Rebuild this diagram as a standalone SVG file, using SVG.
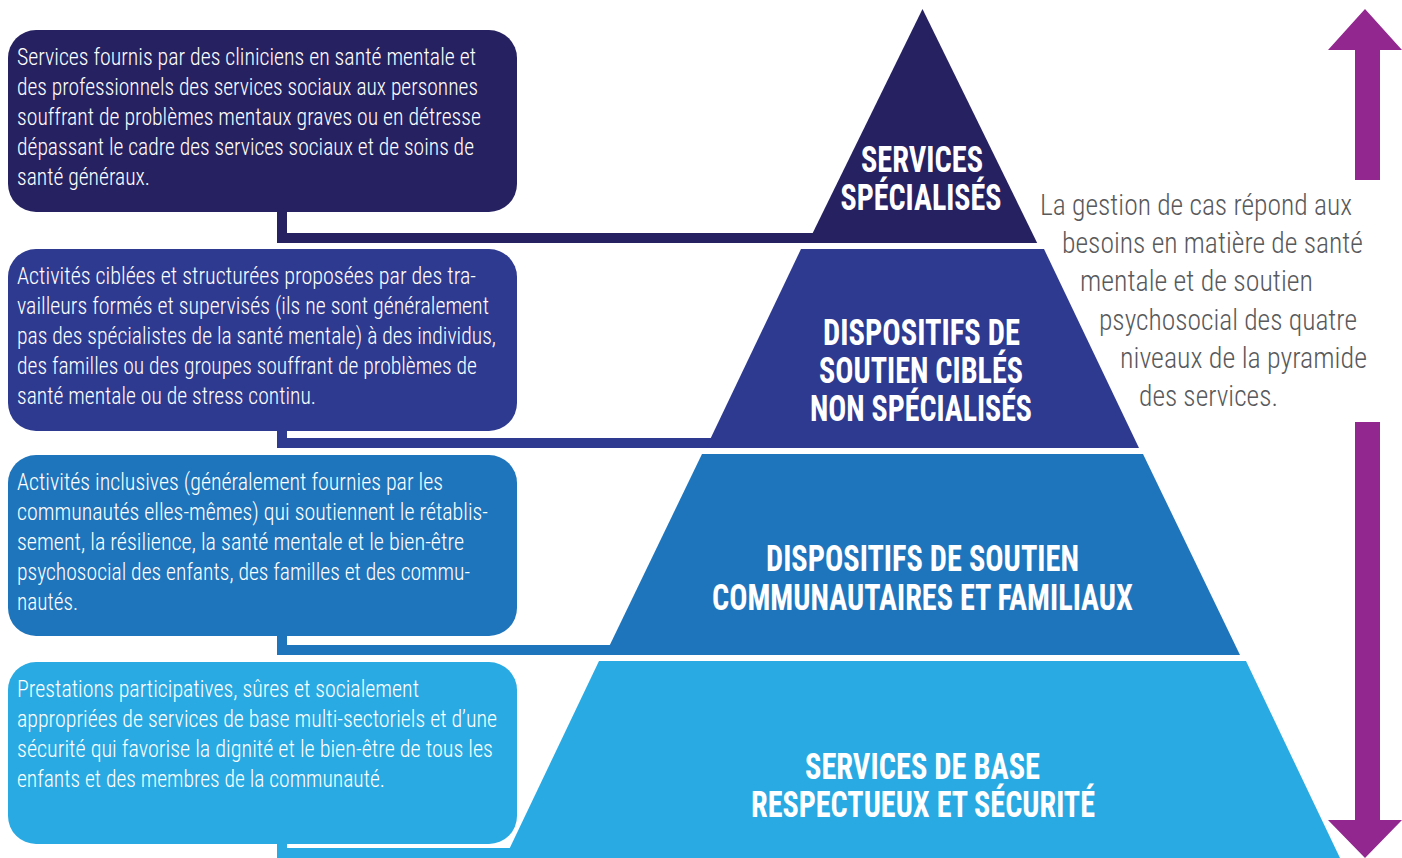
<svg xmlns="http://www.w3.org/2000/svg" width="1402" height="858" viewBox="0 0 1402 858">
<style>
.box{stroke:none}
.bt{font-family:"Roboto Condensed","Liberation Sans Narrow","Roboto",sans-serif;font-weight:300;font-size:24px;fill:#ffffff}
.pt{font-family:"Roboto Condensed","Liberation Sans Narrow","Roboto",sans-serif;font-weight:700;font-size:36px;fill:#ffffff;text-anchor:middle}
.rt{font-family:"Roboto Condensed","Liberation Sans Narrow","Roboto",sans-serif;font-weight:300;font-size:30px;fill:#58595b}
.c1{fill:#262262}.c2{fill:#2e3a90}.c3{fill:#1f75bc}.c4{fill:#29aae2}
.arr{fill:#92278f}
</style>
<rect width="1402" height="858" fill="#ffffff"/>
<g id="connectors">
<path class="c1" d="M277 205 H287 V233 H830 V243 H277 Z"/>
<path class="c2" d="M277 425 H287 V438 H740 V448 H277 Z"/>
<path class="c3" d="M277 630 H287 V645 H640 V655 H277 Z"/>
<path class="c4" d="M277 838 H287 V848 H540 V858 H277 Z"/>
</g>
<g id="level1">
<rect class="c1" x="8" y="30" width="509" height="182" rx="28"/>
<text class="bt"><tspan x="17" y="65" textLength="459" lengthAdjust="spacingAndGlyphs">Services fournis par des cliniciens en santé mentale et</tspan><tspan x="17" y="95" textLength="461" lengthAdjust="spacingAndGlyphs">des professionnels des services sociaux aux personnes</tspan><tspan x="17" y="125" textLength="464" lengthAdjust="spacingAndGlyphs">souffrant de problèmes mentaux graves ou en détresse</tspan><tspan x="17" y="155" textLength="457" lengthAdjust="spacingAndGlyphs">dépassant le cadre des services sociaux et de soins de</tspan><tspan x="17" y="185" textLength="133" lengthAdjust="spacingAndGlyphs">santé généraux.</tspan></text>
<polygon class="c1" points="922.5,9 1037.2,243 807.8,243"/>
<text class="pt"><tspan x="922" y="172" textLength="122" lengthAdjust="spacingAndGlyphs">SERVICES</tspan><tspan x="921" y="210" textLength="161" lengthAdjust="spacingAndGlyphs">SPÉCIALISÉS</tspan></text>
</g>
<g id="level2">
<rect class="c2" x="8" y="249" width="509" height="182" rx="28"/>
<text class="bt"><tspan x="17" y="284" textLength="459" lengthAdjust="spacingAndGlyphs">Activités ciblées et structurées proposées par des tra-</tspan><tspan x="17" y="314" textLength="472" lengthAdjust="spacingAndGlyphs">vailleurs formés et supervisés (ils ne sont généralement</tspan><tspan x="17" y="344" textLength="479" lengthAdjust="spacingAndGlyphs">pas des spécialistes de la santé mentale) à des individus,</tspan><tspan x="17" y="374" textLength="460" lengthAdjust="spacingAndGlyphs">des familles ou des groupes souffrant de problèmes de</tspan><tspan x="17" y="404" textLength="299" lengthAdjust="spacingAndGlyphs">santé mentale ou de stress continu.</tspan></text>
<polygon class="c2" points="801,249 1044,249 1139,448 706,448"/>
<text class="pt"><tspan x="921.5" y="345" textLength="197" lengthAdjust="spacingAndGlyphs">DISPOSITIFS DE</tspan><tspan x="921" y="383" textLength="204" lengthAdjust="spacingAndGlyphs">SOUTIEN CIBLÉS</tspan><tspan x="921" y="421" textLength="222" lengthAdjust="spacingAndGlyphs">NON SPÉCIALISÉS</tspan></text>
</g>
<g id="level3">
<rect class="c3" x="8" y="455" width="509" height="181" rx="28"/>
<text class="bt"><tspan x="17" y="490" textLength="426" lengthAdjust="spacingAndGlyphs">Activités inclusives (généralement fournies par les</tspan><tspan x="17" y="520" textLength="471" lengthAdjust="spacingAndGlyphs">communautés elles-mêmes) qui soutiennent le rétablis-</tspan><tspan x="17" y="550" textLength="447" lengthAdjust="spacingAndGlyphs">sement, la résilience, la santé mentale et le bien-être</tspan><tspan x="17" y="580" textLength="453" lengthAdjust="spacingAndGlyphs">psychosocial des enfants, des familles et des commu-</tspan><tspan x="17" y="610" textLength="61" lengthAdjust="spacingAndGlyphs">nautés.</tspan></text>
<polygon class="c3" points="702,454 1143,454 1240,655 605,655"/>
<text class="pt"><tspan x="922.5" y="571" textLength="313" lengthAdjust="spacingAndGlyphs">DISPOSITIFS DE SOUTIEN</tspan><tspan x="922.5" y="610" textLength="421" lengthAdjust="spacingAndGlyphs">COMMUNAUTAIRES ET FAMILIAUX</tspan></text>
</g>
<g id="level4">
<rect class="c4" x="8" y="662" width="509" height="182" rx="28"/>
<text class="bt"><tspan x="17" y="697" textLength="402" lengthAdjust="spacingAndGlyphs">Prestations participatives, sûres et socialement</tspan><tspan x="17" y="727" textLength="480" lengthAdjust="spacingAndGlyphs">appropriées de services de base multi-sectoriels et d’une</tspan><tspan x="17" y="757" textLength="476" lengthAdjust="spacingAndGlyphs">sécurité qui favorise la dignité et le bien-être de tous les</tspan><tspan x="17" y="787" textLength="368" lengthAdjust="spacingAndGlyphs">enfants et des membres de la communauté.</tspan></text>
<polygon class="c4" points="599,661 1246,661 1340,858 505,858"/>
<text class="pt"><tspan x="922.5" y="779" textLength="235" lengthAdjust="spacingAndGlyphs">SERVICES DE BASE</tspan><tspan x="923" y="817" textLength="344" lengthAdjust="spacingAndGlyphs">RESPECTUEUX ET SÉCURITÉ</tspan></text>
</g>
<g id="note">
<text class="rt"><tspan x="1040" y="215" textLength="312" lengthAdjust="spacingAndGlyphs">La gestion de cas répond aux</tspan><tspan x="1062" y="253" textLength="301" lengthAdjust="spacingAndGlyphs">besoins en matière de santé</tspan><tspan x="1080" y="291" textLength="233" lengthAdjust="spacingAndGlyphs">mentale et de soutien</tspan><tspan x="1099" y="330" textLength="258" lengthAdjust="spacingAndGlyphs">psychosocial des quatre</tspan><tspan x="1120" y="368" textLength="247" lengthAdjust="spacingAndGlyphs">niveaux de la pyramide</tspan><tspan x="1139" y="406" textLength="139" lengthAdjust="spacingAndGlyphs">des services.</tspan></text>
</g>
<g id="arrows">
<polygon class="arr" points="1365,9 1402,50 1380,50 1380,180 1355,180 1355,50 1328,50"/>
<polygon class="arr" points="1355,422 1380,422 1380,820 1402,820 1365,858 1328,820 1355,820"/>
</g>
</svg>
